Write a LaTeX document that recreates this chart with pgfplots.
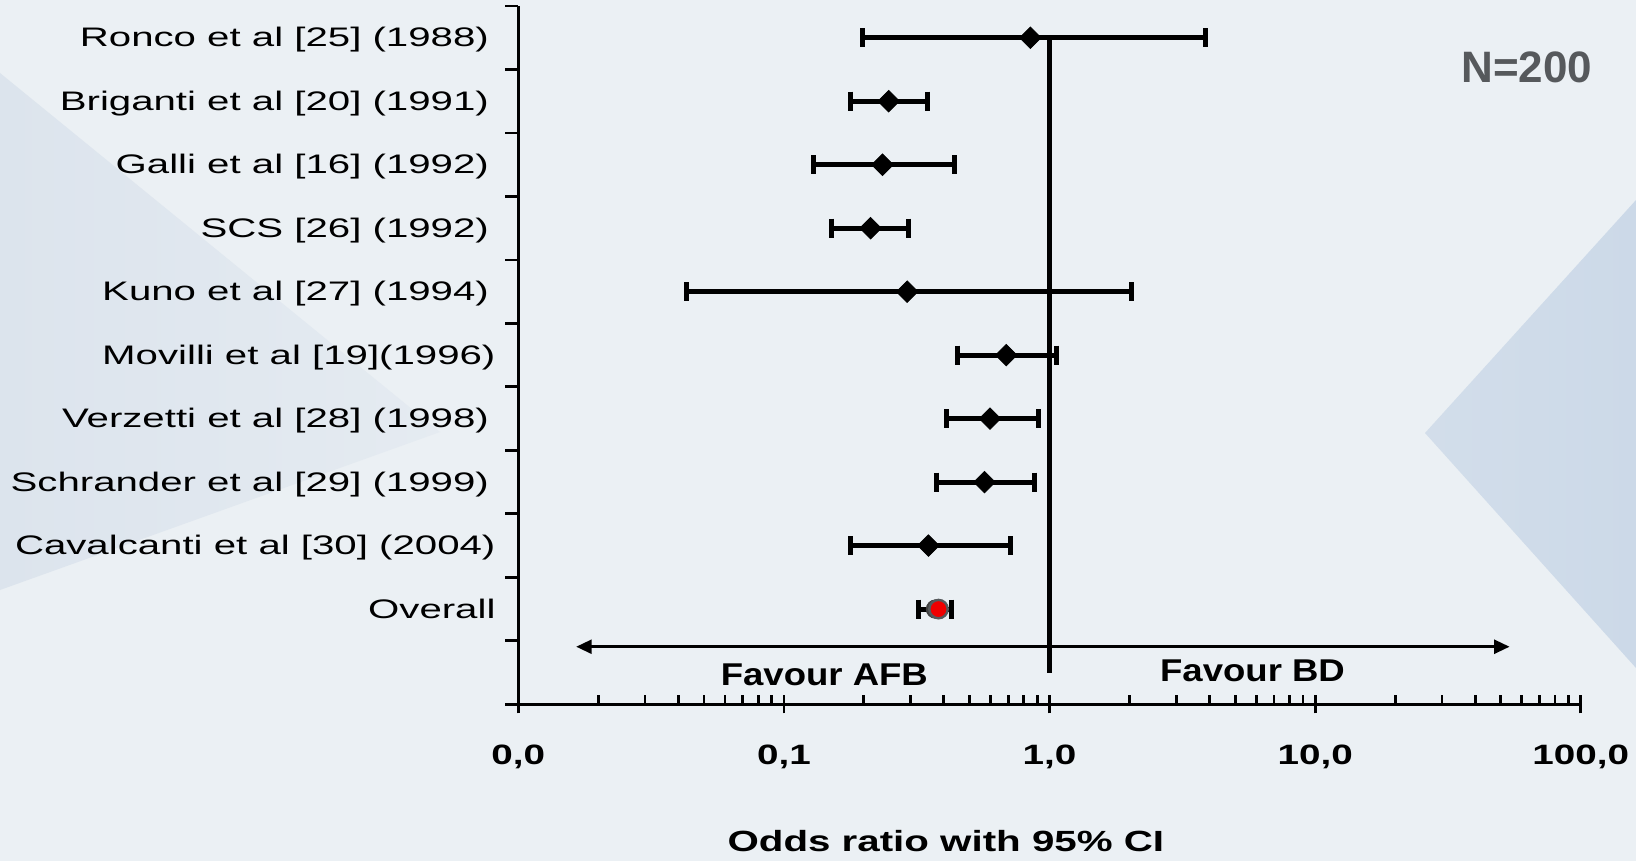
\documentclass[border=0pt]{standalone}
\usepackage{fontspec}
\setmainfont{Liberation Sans}
\usepackage{pgfplots}
\usepackage{pgfplotstable}
\pgfplotsset{compat=1.18}
\usetikzlibrary{arrows.meta}
\newfontfamily\labfamily{Liberation Sans}[FakeStretch=1.50]
\newfontfamily\tickfamily{Liberation Sans}[FakeStretch=1.38]
\newfontfamily\favfamily{Liberation Sans}[FakeStretch=1.16]
\newcommand\labfont{\labfamily\fontsize{13.4}{15}\selectfont}
\newcommand\tickfont{\tickfamily\bfseries\fontsize{14}{16}\selectfont}
\newcommand\xlabfont{\tickfamily\bfseries\fontsize{14.6}{17}\selectfont}
\newcommand\favfont{\favfamily\bfseries\fontsize{15.75}{18}\selectfont}
\newcommand\nfont{\bfseries\fontsize{22}{25}\selectfont}
\definecolor{bgbase}{RGB}{235,240,244}
\definecolor{bgdark}{RGB}{220,228,237}
\definecolor{bgright}{RGB}{204,217,232}
\definecolor{ngray}{RGB}{86,89,92}
\definecolor{ovred}{RGB}{240,0,0}

% odds ratio and row (11 = top)
\pgfplotstableread{
or     row
0.847  11
0.248  10
0.235  9
0.212  8
0.291  7
0.687  6
0.597  5
0.569  4
0.350  3
}\studies
\pgfplotstableread{
or     row
0.382  2
}\overall

\begin{document}
\begin{tikzpicture}
\begin{scope}[x=0.5pt,y=-0.5pt]
\fill[bgbase] (0,0) rectangle (1636,861);
\begin{scope}
\clip (0,73) -- (440,432) -- (0,590) -- cycle;
\shade[left color=bgdark, right color=bgbase!60!bgdark] (0,60) rectangle (450,600);
\end{scope}
\begin{scope}
\clip (1425,433) -- (1636,200) -- (1636,668) -- cycle;
\shade[left color=bgright!80!bgbase, right color=bgright] (1420,190) rectangle (1636,680);
\end{scope}
\end{scope}
\begin{axis}[
  at={(259.15pt,-352.15pt)}, anchor=south west,
  scale only axis, width=531.25pt, height=349.15pt,
  clip=false,
  xmode=log, xmin=0.01, xmax=100, ymin=0.5, ymax=11.5,
  axis x line*=bottom, axis y line*=left,
  axis line style={line width=1.4pt, black},
  tick style={line width=1.4pt, black},
  tick align=outside,
  major tick length=6.5pt,
  minor tick length=4.5pt,
  xtick={0.01,0.1,1,10,100},
  xticklabels={{0,0},{0,1},{1,0},{10,0},{100,0}},
  major x tick style={yshift=2pt},
  minor xtick={0.01,0.02,0.03,0.04,0.05,0.06,0.07,0.08,0.09,0.1,0.2,0.3,0.4,0.5,0.6,0.7,0.8,0.9,1,2,3,4,5,6,7,8,9,10,20,30,40,50,60,70,80,90,100},
  minor x tick style={yshift=4.5pt},
  xticklabel style={font=\tickfont, anchor=base, yshift=-23.6pt},
  ytick={0.5,1.5,...,11.5},
  y tick label as interval,
  yticklabels={{},Overall\hspace*{-3.3pt},Cavalcanti et al [30] (2004)\hspace*{-3.3pt},Schrander et al [29] (1999),Verzetti et al [28] (1998),Movilli et al [19](1996)\hspace*{-3.3pt},Kuno et al [27] (1994),SCS [26] (1992),Galli et al [16] (1992),Briganti et al [20] (1991),Ronco et al [25] (1988)},
  yticklabel style={font=\labfont, anchor=base east, yshift=-4.6pt, xshift=-4.7pt},
  xlabel={Odds ratio with 95\% CI},
  xlabel style={font=\xlabfont, at={(axis description cs:0.4024,0)}, anchor=base, yshift=-73.4pt},
]
% confidence intervals
\addplot[black, line width=2.5pt, mark=|, mark size=4.75pt] coordinates {(0.198,11) (3.85,11)};
\addplot[black, line width=2.5pt, mark=|, mark size=4.75pt] coordinates {(0.178,10) (0.346,10)};
\addplot[black, line width=2.5pt, mark=|, mark size=4.75pt] coordinates {(0.129,9) (0.440,9)};
\addplot[black, line width=2.5pt, mark=|, mark size=4.75pt] coordinates {(0.151,8) (0.295,8)};
\addplot[black, line width=2.5pt, mark=|, mark size=4.75pt] coordinates {(0.0431,7) (2.03,7)};
\addplot[black, line width=2.5pt, mark=|, mark size=4.75pt] coordinates {(0.451,6) (1.064,6)};
\addplot[black, line width=2.5pt, mark=|, mark size=4.75pt] coordinates {(0.408,5) (0.905,5)};
\addplot[black, line width=2.5pt, mark=|, mark size=4.75pt] coordinates {(0.376,4) (0.881,4)};
\addplot[black, line width=2.5pt, mark=|, mark size=4.75pt] coordinates {(0.178,3) (0.715,3)};
\addplot[black, line width=2.5pt, mark=|, mark size=4.75pt] coordinates {(0.321,2) (0.429,2)};
% line of no effect
\addplot[black, line width=2.4pt] coordinates {(1,11) (1,1.0)};
% direction arrows
\addplot[black, line width=1.7pt, {Triangle[length=7.75pt,width=6.75pt]}-{Triangle[length=7.75pt,width=6.75pt]}] coordinates {(0.0165,1.407) (54,1.407)};
% point estimates
\addplot[only marks, mark=square*, mark size=3.8pt, mark options={rotate=45, fill=black, draw=black}] table[x=or, y=row] {\studies};
\addplot[only marks, mark=*, mark size=4.6pt, mark options={fill=black!75, draw=black!75}] coordinates {(0.372,2)};
\addplot[only marks, mark=*, mark size=4.6pt, mark options={fill=ovred, draw=ngray, line width=1.2pt}] table[x=or, y=row] {\overall};
\node[font=\favfont] at (axis cs:0.142,0.961) {Favour AFB};
\node[font=\favfont] at (axis cs:5.81,1.024) {Favour BD};
\node[font=\nfont, text=ngray] at (axis cs:62.6,10.53) {N=200};
\end{axis}
\pgfresetboundingbox
\path[use as bounding box] (0,0) rectangle (818pt,-430.5pt);
\end{tikzpicture}
\end{document}
